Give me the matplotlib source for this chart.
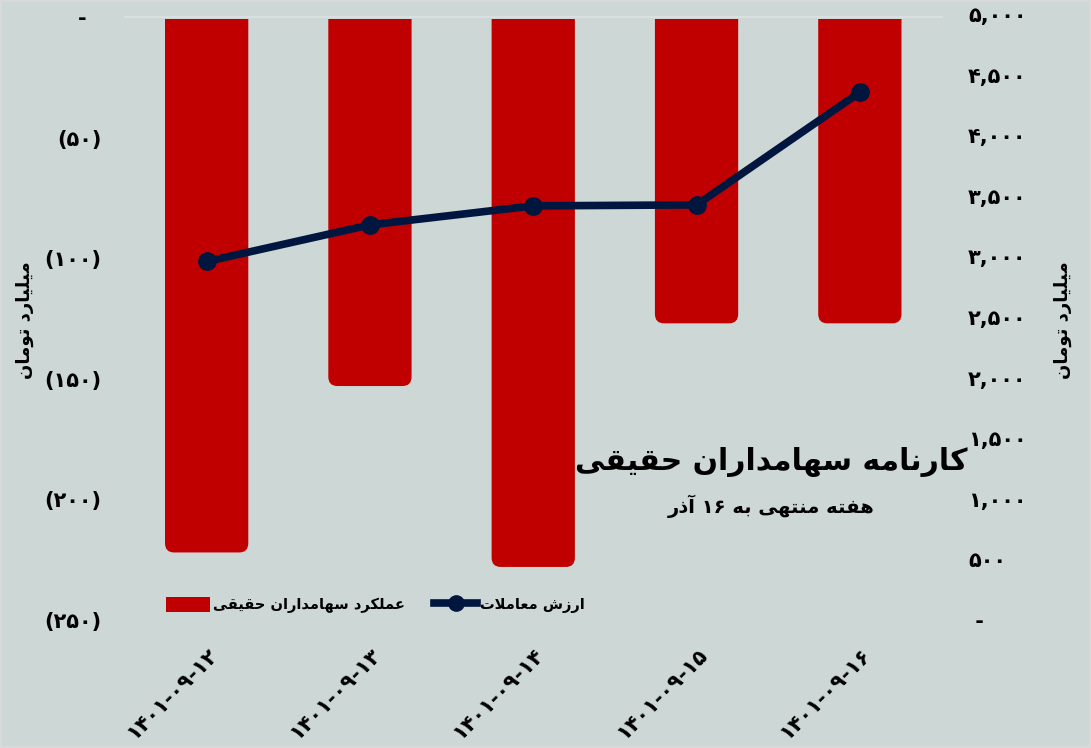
import matplotlib
matplotlib.use("Agg")
import matplotlib.pyplot as plt
from matplotlib.lines import Line2D
from matplotlib.patches import Patch, FancyBboxPatch, Rectangle

# ---------------- data ----------------
categories = ["۱۴۰۱-۰۹-۱۲", "۱۴۰۱-۰۹-۱۳", "۱۴۰۱-۰۹-۱۴", "۱۴۰۱-۰۹-۱۵", "۱۴۰۱-۰۹-۱۶"]
real_holders = [-222, -153, -228, -127, -127]          # left axis, billion toman
trade_value = [2958, 3260, 3417, 3425, 4354]           # right axis, billion toman
left_ticks = [0, -50, -100, -150, -200, -250]
left_ticklabels = ["-  ", "(۵۰)", "(۱۰۰)", "(۱۵۰)", "(۲۰۰)", "(۲۵۰)"]
right_ticks = [0, 500, 1000, 1500, 2000, 2500, 3000, 3500, 4000, 4500, 5000]
right_ticklabels = [" -", "۵۰۰", "۱,۰۰۰", "۱,۵۰۰", "۲,۰۰۰", "۲,۵۰۰", "۳,۰۰۰",
                    "۳,۵۰۰", "۴,۰۰۰", "۴,۵۰۰", "۵,۰۰۰"]
title = "کارنامه سهامداران حقیقی"
subtitle = "هفته منتهی به ۱۶ آذر"
axis_label = "میلیارد تومان"
legend_bar = "عملکرد سهامداران حقیقی"
legend_line = "ارزش معاملات"

# ---------------- simple Persian shaping ----------------
FORMS = {
    'ا': (0xFE8D, 0xFE8E, None, None), 'آ': (0xFE81, 0xFE82, None, None),
    'د': (0xFEA9, 0xFEAA, None, None), 'ذ': (0xFEAB, 0xFEAC, None, None),
    'ر': (0xFEAD, 0xFEAE, None, None), 'ز': (0xFEAF, 0xFEB0, None, None),
    'ژ': (0xFB8A, 0xFB8B, None, None), 'و': (0xFEED, 0xFEEE, None, None),
    'ب': (0xFE8F, 0xFE90, 0xFE91, 0xFE92), 'پ': (0xFB56, 0xFB57, 0xFB58, 0xFB59),
    'ت': (0xFE95, 0xFE96, 0xFE97, 0xFE98), 'ث': (0xFE99, 0xFE9A, 0xFE9B, 0xFE9C),
    'ج': (0xFE9D, 0xFE9E, 0xFE9F, 0xFEA0), 'چ': (0xFB7A, 0xFB7B, 0xFB7C, 0xFB7D),
    'ح': (0xFEA1, 0xFEA2, 0xFEA3, 0xFEA4), 'خ': (0xFEA5, 0xFEA6, 0xFEA7, 0xFEA8),
    'س': (0xFEB1, 0xFEB2, 0xFEB3, 0xFEB4), 'ش': (0xFEB5, 0xFEB6, 0xFEB7, 0xFEB8),
    'ص': (0xFEB9, 0xFEBA, 0xFEBB, 0xFEBC), 'ض': (0xFEBD, 0xFEBE, 0xFEBF, 0xFEC0),
    'ط': (0xFEC1, 0xFEC2, 0xFEC3, 0xFEC4), 'ظ': (0xFEC5, 0xFEC6, 0xFEC7, 0xFEC8),
    'ع': (0xFEC9, 0xFECA, 0xFECB, 0xFECC), 'غ': (0xFECD, 0xFECE, 0xFECF, 0xFED0),
    'ف': (0xFED1, 0xFED2, 0xFED3, 0xFED4), 'ق': (0xFED5, 0xFED6, 0xFED7, 0xFED8),
    'ک': (0xFB8E, 0xFB8F, 0xFB90, 0xFB91), 'گ': (0xFB92, 0xFB93, 0xFB94, 0xFB95),
    'ل': (0xFEDD, 0xFEDE, 0xFEDF, 0xFEE0), 'م': (0xFEE1, 0xFEE2, 0xFEE3, 0xFEE4),
    'ن': (0xFEE5, 0xFEE6, 0xFEE7, 0xFEE8), 'ه': (0xFEE9, 0xFEEA, 0xFEEB, 0xFEEC),
    'ی': (0xFBFC, 0xFBFD, 0xFBFE, 0xFBFF),
}


def dual(c):
    return c in FORMS and FORMS[c][2] is not None


def shape(text):
    out = []
    i = 0
    n = len(text)
    while i < n:
        c = text[i]
        if c not in FORMS:
            out.append(c)
            i += 1
            continue
        prev = text[i - 1] if i > 0 else ''
        prev_join = dual(prev)
        if c == 'ل' and i + 1 < n and text[i + 1] == 'ا':
            out.append(chr(0xFEFC if prev_join else 0xFEFB))
            i += 2
            continue
        nxt = text[i + 1] if i + 1 < n else ''
        next_join = dual(c) and nxt in FORMS
        iso, fin, ini, med = FORMS[c]
        if prev_join and next_join:
            g = med
        elif prev_join:
            g = fin
        elif next_join:
            g = ini
        else:
            g = iso
        out.append(chr(g))
        i += 1
    s = ''.join(out)
    # visual order: reverse, keeping digit runs left-to-right
    runs = []
    for ch in s:
        isdig = ch.isdigit()
        if runs and runs[-1][0] and isdig:
            runs[-1][1].append(ch)
        else:
            runs.append([isdig, [ch]])
    vis = []
    for isdig, chars in reversed(runs):
        vis.append(''.join(chars) if isdig else ''.join(reversed(chars)))
    return ''.join(vis)


# ---------------- style ----------------
BG = "#CDD7D6"
RED = "#C00000"
NAVY = "#00163F"
plt.rcParams['font.family'] = ['DejaVu Sans']
plt.rcParams['font.weight'] = 'bold'

W, H = 1091, 748
fig = plt.figure(figsize=(W / 100, H / 100), dpi=100, facecolor=BG)
# left (bar) axes: top at y=17px, bottom at y=620px
ax = fig.add_axes([125 / W, 1 - 620 / H, 816.5 / W, 603 / H])
ax.set_facecolor(BG)
# right (line) axes: top at y=14px, bottom at y=620px
ax2 = fig.add_axes([125 / W, 1 - 620 / H, 816.5 / W, 606 / H], sharex=ax)
ax2.patch.set_visible(False)
ax2.yaxis.tick_right()
ax2.yaxis.set_label_position('right')
ax2.xaxis.set_visible(False)

x = list(range(len(categories)))
bars = ax.bar(x, real_holders, width=0.51, color=RED, zorder=2)
ax.set_ylim(-250, 0)
ax.set_xlim(-0.5, len(categories) - 0.5)

# rounded bottom corners: replace each bar with a rounded box (top clipped)
for rect in bars:
    rx, ry = rect.get_x(), rect.get_y()
    rw, rh = rect.get_width(), rect.get_height()
    y0 = min(ry, ry + rh)
    hh = abs(rh) - 0.8
    rect.set_visible(False)
    fb = FancyBboxPatch((rx, y0), rw, hh + 20,
                        boxstyle="round,pad=0,rounding_size=0.055",
                        mutation_aspect=70, facecolor=RED, edgecolor='none',
                        zorder=2, clip_on=True)
    ax.add_patch(fb)
    fb.set_clip_box(None)
    fb.set_clip_path(Rectangle((rx - 1, y0 - 5), rw + 2, hh + 5,
                               transform=ax.transData))

ax.set_yticks(left_ticks)
ax.set_yticklabels(left_ticklabels, fontsize=15, fontweight='bold')
ax.set_xticks(x)
ax.set_xticklabels(categories, rotation=45, ha='right', va='top',
                   rotation_mode='anchor', fontsize=15, fontweight='bold')
ax.tick_params(axis='y', length=0, pad=17)
ax.tick_params(axis='x', length=0, pad=18)

ax2.plot(x, trade_value, color=NAVY, lw=5.5, marker='o', ms=12.5,
         solid_capstyle='round', zorder=3)
ax2.set_ylim(0, 5000)
ax2.set_yticks(right_ticks)
ax2.set_yticklabels(right_ticklabels, fontsize=15, fontweight='bold')
ax2.tick_params(axis='y', length=0, pad=19)

for a in (ax, ax2):
    for s in a.spines.values():
        s.set_visible(False)
ax.spines['top'].set_visible(True)
ax.spines['top'].set_color('#DCE2E2')
ax.spines['top'].set_linewidth(1.2)

fig.text(0.023, 0.572, shape(axis_label), rotation=90, ha='center', va='center',
         fontsize=13, fontweight='bold')
fig.text(0.974, 0.572, shape(axis_label), rotation=90, ha='center', va='center',
         fontsize=13, fontweight='bold')

fig.text(0.7067, 0.383, shape(title), ha='center', va='center', fontsize=21.5,
         fontweight='bold')
fig.text(0.7067, 0.323, shape(subtitle), ha='center', va='center', fontsize=14,
         fontweight='bold')

handles = [Patch(facecolor=RED, edgecolor='none'),
           Line2D([], [], color=NAVY, lw=5.5, marker='o', ms=11)]
ax.legend(handles, [shape(legend_bar), shape(legend_line)], ncol=2,
          loc='center left', bbox_to_anchor=(166 / W, 1 - 605 / H),
          bbox_transform=fig.transFigure, frameon=False,
          handlelength=3.0, handleheight=1.3, handletextpad=0.2,
          columnspacing=2.0, borderpad=0, borderaxespad=0,
          prop={'weight': 'bold', 'size': 10.5})

# light outer frame of the chart area
fig.patches.append(Rectangle((0.001, 0.001), 0.998, 0.998, transform=fig.transFigure,
                             fill=False, edgecolor='#D9D9D9', linewidth=1.5))

fig.savefig("out.png", dpi=100, facecolor=BG)
